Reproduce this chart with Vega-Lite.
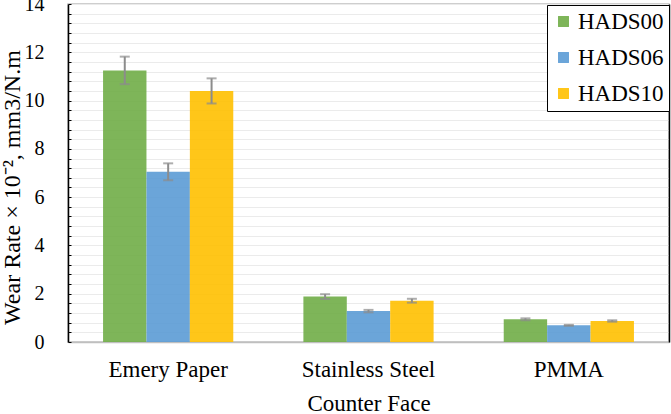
{
  "$schema": "https://vega.github.io/schema/vega-lite/v6.json",
  "width": 601,
  "height": 338,
  "autosize": "none",
  "padding": {"left": 68, "top": 4, "right": 2, "bottom": 72},
  "background": "white",
  "config": {
    "font": "Liberation Serif",
    "view": {"stroke": "#BFBFBF", "strokeWidth": 1.5},
    "axis": {"labelFont": "Liberation Serif", "titleFont": "Liberation Serif"},
    "legend": {"labelFont": "Liberation Serif"},
    "style": {"guide-label": {"font": "Liberation Serif"}, "guide-title": {"font": "Liberation Serif"}}
  },
  "data": {
    "values": [
      {"face": "Emery Paper", "series": "HADS00", "rate": 11.25, "err": 0.57},
      {"face": "Emery Paper", "series": "HADS06", "rate": 7.05, "err": 0.35},
      {"face": "Emery Paper", "series": "HADS10", "rate": 10.4, "err": 0.52},
      {"face": "Stainless Steel", "series": "HADS00", "rate": 1.88, "err": 0.1},
      {"face": "Stainless Steel", "series": "HADS06", "rate": 1.28, "err": 0.05},
      {"face": "Stainless Steel", "series": "HADS10", "rate": 1.71, "err": 0.08},
      {"face": "PMMA", "series": "HADS00", "rate": 0.94, "err": 0.04},
      {"face": "PMMA", "series": "HADS06", "rate": 0.69, "err": 0.02},
      {"face": "PMMA", "series": "HADS10", "rate": 0.87, "err": 0.03}
    ]
  },
  "resolve": {"scale": {"y": "independent"}},
  "layer": [
    {
      "mark": {"type": "bar", "opacity": 0.9},
      "encoding": {
        "x": {
          "field": "face",
          "type": "nominal",
          "sort": ["Emery Paper", "Stainless Steel", "PMMA"],
          "scale": {"paddingInner": 0.35, "paddingOuter": 0.175},
          "axis": {
            "title": "Counter Face",
            "titleFontSize": 23,
            "titleFontWeight": "normal",
            "titleColor": "black",
            "titlePadding": 11,
            "labelAngle": 0,
            "labelFontSize": 23,
            "labelColor": "black",
            "labelPadding": 16,
            "ticks": false,
            "domainColor": "#BFBFBF",
            "domainWidth": 1.5
          }
        },
        "xOffset": {"field": "series", "type": "nominal"},
        "y": {
          "field": "rate",
          "type": "quantitative",
          "scale": {"domain": [0, 14], "nice": false},
          "axis": {
            "title": "Wear Rate × 10⁻², mm3/N.m",
            "titleFontSize": 24,
            "titleFontWeight": "normal",
            "titleColor": "black",
            "titleX": -44,
            "titleY": 183,
            "titleBaseline": "bottom",
            "values": [0, 0.4, 0.8, 1.2, 1.6, 2, 2.4, 2.8, 3.2, 3.6, 4, 4.4, 4.8, 5.2, 5.6, 6, 6.4, 6.8, 7.2, 7.6, 8, 8.4, 8.8, 9.2, 9.6, 10, 10.4, 10.8, 11.2, 11.6, 12, 12.4, 12.8, 13.2, 13.6, 14],
            "format": "~g",
            "labelExpr": "datum.value % 2 == 0 ? datum.label : ''",
            "labelFontSize": 20,
            "labelColor": "black",
            "labelPadding": 27,
            "tickColor": "black",
            "tickSize": -3,
            "gridColor": "#EBEBEB",
            "gridWidth": 1,
            "domainColor": "black",
            "domainWidth": 1.5
          }
        },
        "color": {
          "field": "series",
          "type": "nominal",
          "scale": {"range": ["#70AD47", "#5B9BD5", "#FFC000"]},
          "legend": {
            "title": null,
            "orient": "none",
            "legendX": 479,
            "legendY": 1,
            "symbolType": "square",
            "symbolSize": 120,
            "symbolStrokeWidth": 0,
            "symbolOpacity": 0.9,
            "labelFont": "Liberation Serif",
            "labelFontSize": 23,
            "labelColor": "black",
            "labelOffset": 3,
            "rowPadding": 12,
            "padding": 5,
            "strokeColor": "black",
            "fillColor": "white"
          }
        }
      }
    },
    {
      "mark": {"type": "errorbar", "ticks": true, "size": 10, "thickness": 2, "color": "#8C8C8C"},
      "encoding": {
        "x": {"field": "face", "type": "nominal", "sort": ["Emery Paper", "Stainless Steel", "PMMA"]},
        "xOffset": {"field": "series", "type": "nominal"},
        "y": {
          "field": "rate",
          "type": "quantitative",
          "scale": {"domain": [0, 14], "nice": false},
          "axis": {"orient": "right", "title": null, "labels": false, "ticks": false, "grid": false, "domainColor": "black", "domainWidth": 1.5}
        },
        "yError": {"field": "err"}
      }
    }
  ]
}
